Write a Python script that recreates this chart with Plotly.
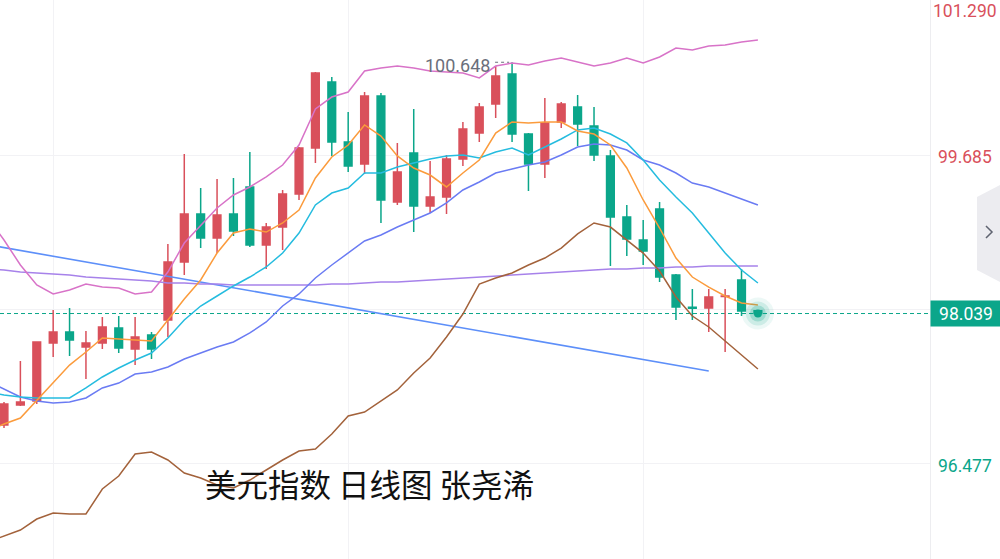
import plotly.graph_objects as go

# ---- daily candles (US dollar index) ----
days = list(range(47))
open_ = [96.881, 97.089, 97.131, 97.733, 97.847, 97.691, 97.733, 97.889, 97.671, 97.816,
         97.972, 98.574, 99.072, 98.823, 99.072, 99.353, 98.750, 98.937, 99.280, 99.758,
         100.443, 99.820, 99.592, 100.298, 99.197, 99.706, 99.155, 99.249, 99.643, 99.913,
         100.215, 100.526, 99.903, 99.592, 100.028, 100.183, 99.986, 99.675, 99.041, 98.802,
         99.124, 98.439, 98.103, 98.096, 98.216, 98.387, 98.068]
high = [97.120, 97.546, 97.750, 98.076, 98.096, 97.857, 98.003, 98.013, 98.003, 97.847,
        98.761, 99.695, 99.342, 99.436, 99.446, 99.716, 98.979, 99.321, 99.768, 100.547,
        100.495, 100.132, 100.339, 100.329, 99.810, 100.163, 99.623, 99.685, 100.028, 100.225,
        100.609, 100.648, 99.913, 100.277, 100.235, 100.308, 100.183, 99.737, 99.166, 99.010,
        99.197, 98.449, 98.294, 98.294, 98.294, 98.501, 98.072]
low = [96.850, 97.079, 97.099, 97.587, 97.598, 97.359, 97.671, 97.629, 97.504, 97.567,
       97.795, 98.439, 98.719, 98.667, 98.844, 98.730, 98.501, 98.699, 99.218, 99.602,
       99.675, 99.508, 99.488, 98.979, 99.166, 98.885, 99.083, 99.072, 99.571, 99.820,
       100.069, 99.820, 99.311, 99.446, 99.965, 99.778, 99.623, 98.532, 98.636, 98.543,
       98.366, 97.972, 97.972, 97.847, 97.639, 98.013, 98.030]
close = [97.099, 97.120, 97.743, 97.847, 97.764, 97.733, 97.899, 97.681, 97.795, 97.671,
         98.574, 99.072, 98.823, 99.062, 98.896, 98.750, 98.937, 99.280, 99.758, 100.536,
         99.820, 99.571, 100.298, 99.218, 99.508, 99.155, 99.249, 99.643, 99.955, 100.183,
         100.505, 99.903, 99.592, 100.017, 100.215, 100.007, 99.685, 99.041, 98.813, 98.688,
         98.418, 98.107, 98.094, 98.210, 98.222, 98.065, 98.039]

# ---- indicator lines (one extra point before the first candle) ----
line_days = list(range(-1, 47))
ma5 = [96.819, 96.892, 96.954, 97.141, 97.328, 97.504, 97.639, 97.785, 97.774, 97.764, 97.754,
       97.972, 98.190, 98.387, 98.667, 98.875, 98.917, 98.885, 98.979, 99.114, 99.446,
       99.664, 99.789, 99.997, 99.882, 99.675, 99.550, 99.477, 99.353, 99.498, 99.633,
       99.913, 100.028, 100.017, 100.028, 100.028, 99.934, 99.903, 99.789, 99.550, 99.218,
       98.927, 98.615, 98.418, 98.314, 98.221, 98.148, 98.127]
ma10 = [97.224, 97.193, 97.172, 97.162, 97.162, 97.162, 97.266, 97.380, 97.473, 97.556, 97.629,
        97.785, 97.972, 98.117, 98.221, 98.325, 98.418, 98.522, 98.667, 98.875, 99.166,
        99.290, 99.342, 99.498, 99.498, 99.560, 99.602, 99.643, 99.675, 99.685, 99.654,
        99.716, 99.758, 99.685, 99.768, 99.851, 99.945, 99.965, 99.903, 99.810, 99.633,
        99.425, 99.249, 99.083, 98.875, 98.667, 98.491, 98.356]
ma20 = [97.338, 97.255, 97.172, 97.131, 97.110, 97.120, 97.162, 97.266, 97.317, 97.411, 97.432,
        97.484, 97.567, 97.629, 97.691, 97.743, 97.837, 97.951, 98.117, 98.242, 98.408,
        98.543, 98.667, 98.792, 98.854, 98.937, 99.010, 99.083, 99.187, 99.322, 99.405,
        99.498, 99.540, 99.581, 99.612, 99.685, 99.768, 99.799, 99.789, 99.737, 99.633,
        99.581, 99.498, 99.394, 99.353, 99.290, 99.228, 99.166]
boll_upper = [99.041, 98.802, 98.543, 98.335, 98.242, 98.283, 98.345, 98.314, 98.304, 98.242, 98.262,
              98.470, 98.771, 98.948, 99.135, 99.270, 99.353, 99.457, 99.581, 99.789, 100.163,
              100.287, 100.339, 100.557, 100.588, 100.609, 100.588, 100.557, 100.547, 100.536, 100.485,
              100.609, 100.640, 100.620, 100.661, 100.692, 100.651, 100.609, 100.640, 100.692, 100.640,
              100.703, 100.796, 100.775, 100.817, 100.827, 100.858, 100.879]
boll_lower = [95.666, 95.729, 95.791, 95.905, 95.968, 95.957, 95.957, 96.217, 96.352, 96.580, 96.601,
              96.518, 96.383, 96.331, 96.258, 96.227, 96.310, 96.414, 96.518, 96.611, 96.632,
              96.788, 96.975, 97.016, 97.131, 97.245, 97.421, 97.577, 97.795, 98.034, 98.345,
              98.408, 98.460, 98.543, 98.615, 98.719, 98.865, 98.979, 98.937, 98.802, 98.667,
              98.480, 98.211, 98.013, 97.899, 97.754, 97.608, 97.463]
ma_long = [98.501, 98.491, 98.470, 98.460, 98.449, 98.439, 98.418, 98.408, 98.397, 98.387, 98.377,
           98.356, 98.356, 98.345, 98.345, 98.335, 98.335, 98.335, 98.335, 98.335, 98.335,
           98.345, 98.345, 98.356, 98.366, 98.366, 98.377, 98.387, 98.397, 98.408, 98.418,
           98.429, 98.439, 98.449, 98.460, 98.470, 98.480, 98.491, 98.501, 98.501, 98.512,
           98.512, 98.522, 98.522, 98.532, 98.532, 98.532, 98.532]

# hand-drawn trend line (start / end)
trend_days = [-1, 43]
trend_vals = [98.753, 97.442]

# ---- price scale ----
price_ticks = [96.477, 98.081, 99.685, 101.290]
tick_labels = ["96.477", "", "99.685", "101.290"]
tick_colors = ["#0ba68a", "#0ba68a", "#d9505b", "#d9505b"]
last_price = 98.039
peak_label = "100.648"
peak_day = 31
title_text = "美元指数 日线图 张尧浠"

RED = "#d9505b"
GREEN = "#0ba68a"
GRID = "#f2f2f5"
NUM_FONT = "Roboto"

fig = go.Figure()

fig.add_trace(go.Candlestick(
    x=days, open=open_, high=high, low=low, close=close,
    increasing=dict(line=dict(color=RED, width=1.5), fillcolor=RED),
    decreasing=dict(line=dict(color=GREEN, width=1.5), fillcolor=GREEN),
    whiskerwidth=0, hoverinfo="skip", showlegend=False,
))

def add_line(xs, ys, color, width=1.4):
    fig.add_trace(go.Scatter(x=xs, y=ys, mode="lines", line=dict(color=color, width=width),
                             hoverinfo="skip", showlegend=False))

add_line(trend_days, trend_vals, "#5d8ff9", 1.6)
add_line(line_days, ma_long, "#a782ea", 1.5)
add_line(line_days, boll_lower, "#a3623b", 1.5)
add_line(line_days, boll_upper, "#d873c8", 1.5)
add_line(line_days, ma20, "#6a7bf3", 1.5)
add_line(line_days, ma10, "#25bcdf", 1.5)
add_line(line_days, ma5, "#fb9b3c", 1.5)

# glowing dot on the latest price
for size, alpha in [(32, 0.08), (24, 0.14), (16, 0.24)]:
    fig.add_trace(go.Scatter(x=[days[-1]], y=[last_price], mode="markers",
                             marker=dict(size=size, color=f"rgba(11,166,138,{alpha})", line=dict(width=0)),
                             hoverinfo="skip", showlegend=False))
fig.add_trace(go.Scatter(x=[days[-1]], y=[last_price], mode="markers",
                         marker=dict(size=8, color=GREEN, line=dict(width=0)),
                         hoverinfo="skip", showlegend=False))

shapes = [
    # latest price dashed line
    dict(type="line", xref="paper", x0=0, x1=1, yref="y", y0=last_price, y1=last_price,
         line=dict(color=GREEN, width=1, dash="4px,3px"), layer="below"),
    # dotted leader from the peak label to the high
    dict(type="line", xref="x", xsizemode="pixel", xanchor=peak_day, x0=-17, x1=-3,
         yref="y", y0=float(peak_label), y1=float(peak_label),
         line=dict(color="#6b6f7b", width=1.2, dash="dot")),
    # side tab with chevron
    dict(type="path", xref="paper", yref="paper",
         path="M 1.0505,0.6476 L 1.0753,0.6691 L 1.0753,0.4955 L 1.0505,0.5170 Z",
         fillcolor="#ececf0", line=dict(width=0)),
    dict(type="path", xref="paper", yref="paper",
         path="M 1.0602,0.5957 L 1.0667,0.5850 L 1.0602,0.5742",
         line=dict(color="#5f6370", width=1.5)),
]

annotations = []
for val, lab, col in zip(price_ticks, tick_labels, tick_colors):
    if not lab:
        continue
    shift = -11 if val == max(price_ticks) else -2
    annotations.append(dict(xref="paper", x=1, xshift=35, xanchor="center", yref="y", y=val,
                            yshift=shift, text=lab, showarrow=False,
                            font=dict(family=NUM_FONT, size=17.5, color=col)))

annotations.append(dict(xref="paper", x=1, xanchor="left", yref="y", y=last_price,
                        text=f"{last_price:.3f}", showarrow=False, bgcolor=GREEN,
                        width=66, height=21, borderpad=2, align="center",
                        font=dict(family=NUM_FONT, size=17.5, color="white")))
annotations.append(dict(xref="x", x=peak_day, xshift=-20, xanchor="right", yref="y",
                        y=float(peak_label), yshift=-3, text=peak_label, showarrow=False,
                        font=dict(family=NUM_FONT, size=18, color="#6b6f7b")))
annotations.append(dict(xref="paper", x=0.3975, yref="paper", y=0.136, text=title_text,
                        showarrow=False, xanchor="center", yanchor="middle",
                        font=dict(family="Noto Sans CJK SC", size=31.5, color="#111111")))

fig.update_layout(
    width=1000, height=559,
    margin=dict(l=0, r=70, t=0, b=0),
    paper_bgcolor="white", plot_bgcolor="white",
    showlegend=False, hovermode=False, boxgap=0.33,
    shapes=shapes, annotations=annotations,
    xaxis=dict(range=[-0.244, 56.50], tickvals=[3, 21, 39], showticklabels=False,
               showgrid=True, gridcolor=GRID, gridwidth=1, zeroline=False,
               rangeslider=dict(visible=False), fixedrange=True),
    yaxis=dict(range=[95.490, 101.2945], side="right", tickvals=price_ticks,
               showticklabels=False, showgrid=True, gridcolor=GRID, gridwidth=1,
               zeroline=False, showline=True, linecolor="#ededf0", linewidth=1,
               fixedrange=True),
)

fig.write_html("out.html", config={"displayModeBar": False})
